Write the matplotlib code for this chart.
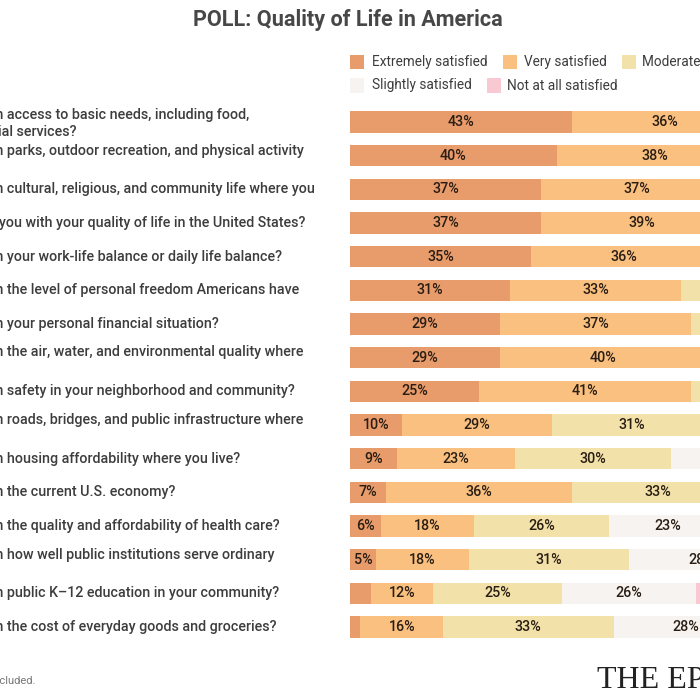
import matplotlib
matplotlib.use("Agg")
import matplotlib.pyplot as plt
from matplotlib.patches import Rectangle

# ---------------- data ----------------
questions = [
    "How satisfied are you with access to basic needs, including food,\nwater, shelter, and essential services?",
    "How satisfied are you with parks, outdoor recreation, and physical activity\nopportunities?",
    "How satisfied are you with cultural, religious, and community life where you\nlive?",
    "Overall, how satisfied are you with your quality of life in the United States?",
    "How satisfied are you with your work-life balance or daily life balance?",
    "How satisfied are you with the level of personal freedom Americans have",
    "How satisfied are you with your personal financial situation?",
    "How satisfied are you with the air, water, and environmental quality where\nyou live?",
    "How satisfied are you with safety in your neighborhood and community?",
    "How satisfied are you with roads, bridges, and public infrastructure where\nyou live?",
    "How satisfied are you with housing affordability where you live?",
    "How satisfied are you with the current U.S. economy?",
    "How satisfied are you with the quality and affordability of health care?",
    "How satisfied are you with how well public institutions serve ordinary\nAmericans?",
    "How satisfied are you with public K\u201312 education in your community?",
    "How satisfied are you with the cost of everyday goods and groceries?",
]
categories = ["Extremely satisfied", "Very satisfied", "Moderately satisfied",
              "Slightly satisfied", "Not at all satisfied"]
extremely = [43, 40, 37, 37, 35, 31, 29, 29, 25, 10, 9, 7, 6, 5, 4, 2]
very      = [36, 38, 37, 39, 36, 33, 37, 40, 41, 29, 23, 36, 18, 18, 12, 16]
moderately= [15, 16, 19, 17, 20, 22, 22, 21, 23, 31, 30, 33, 26, 31, 25, 33]
slightly  = [4, 4, 5, 5, 6, 9, 8, 7, 8, 20, 22, 16, 23, 28, 26, 28]
not_at_all= [2, 2, 2, 2, 3, 5, 4, 3, 3, 10, 16, 8, 27, 18, 33, 21]
series = [extremely, very, moderately, slightly, not_at_all]

colors = ["#E89B6B", "#F9C080", "#F2E1A9", "#F7F3F0", "#F9C9D3"]

title = "POLL: Quality of Life in America"
footnote = "Note: Figures may not sum to 100% due to rounding; \u201cNot sure\u201d responses excluded."
brand = "THE EPOCH TIMES"

# ---------------- figure ----------------
W = H = 700
fig = plt.figure(figsize=(7, 7), dpi=100)
fig.patch.set_facecolor("white")

def fx(px):
    return px / W

def fy(py):
    return 1 - py / H

top_px, bot_px = 105.2, 643.8
ax = fig.add_axes([fx(350), fy(bot_px), 517 / W, (bot_px - top_px) / H])
ax.set_xlim(0, 100)
ax.set_ylim(len(questions) - 0.5, -0.5)
ax.axis("off")

label_font = ["Roboto", "DejaVu Sans"]
bar_h = 0.633
n = len(questions)
for i in range(n):
    left = 0
    for s, col in zip(series, colors):
        v = s[i]
        ax.barh(i, v, left=left, height=bar_h, color=col, edgecolor="none")
        if v >= 5:
            ax.text(left + v / 2, i, f"{v}%", ha="center", va="center",
                    fontsize=10.3, color="#2a1e14", family=label_font,
                    fontweight="medium")
        left += v

# figure out left start so that the prefix is cut off
q_size = 10.3
renderer = fig.canvas.get_renderer()
probe = fig.text(0, 0, "How satisfied are you wit", fontsize=q_size, family=label_font,
                 fontweight="medium")
pw = probe.get_window_extent(renderer).width
probe.remove()
x0_px = -5 - pw

row_px = (bot_px - top_px) / n
line_dy = [-7, -5, 0, 0, 0, 0, 0, -6, 0, -5, 0, 0, 0, -5, 0, 0]
for i, q in enumerate(questions):
    cy = top_px + (i + 0.5) * row_px + line_dy[i]
    lines = q.split("\n")
    for k, ln in enumerate(lines):
        fig.text(fx(x0_px), fy(cy + k * 16.5), ln, ha="left", va="center",
                 fontsize=q_size, color="#3d3d3d", family=label_font, fontweight="medium")

# title
fig.text(fx(348), fy(20), title, ha="center", va="center", fontsize=15.6,
         fontweight="bold", color="#474747",
         family=["Liberation Sans Narrow", "Roboto", "DejaVu Sans"])

# legend (flow layout)
leg_items = [
    (0, 350, 62, 371.5),
    (1, 503, 62, 524),
    (2, 622, 62, 642),
    (3, 350, 85.5, 371.5),
    (4, 487, 85.5, 507),
]
for idx, sx, sy, tx in leg_items:
    fig.patches.append(Rectangle((fx(sx), fy(sy + 7)), 14 / W, 14 / H,
                                 transform=fig.transFigure, facecolor=colors[idx],
                                 edgecolor="none"))
    fig.text(fx(tx), fy(sy), categories[idx], ha="left", va="center",
             fontsize=9.8, color="#3d3d3d", family=label_font)

# footnote
fig.text(fx(35), fy(681), footnote, ha="right", va="center", fontsize=8,
         color="#777777", family=label_font)

# brand
fig.text(fx(597), fy(688), brand, ha="left", va="baseline", fontsize=23,
         color="#222222", family=["Liberation Serif", "DejaVu Serif"])

fig.savefig("out.png", dpi=100)
